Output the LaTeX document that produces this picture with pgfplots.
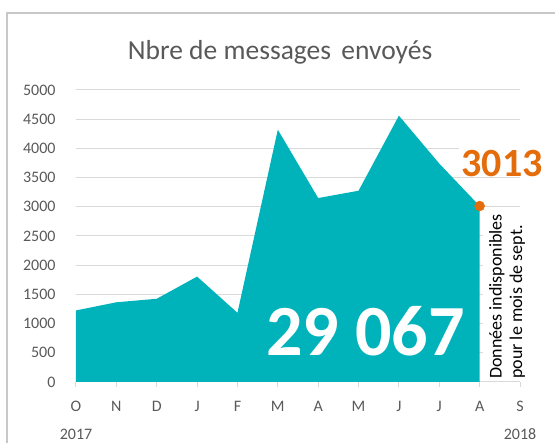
\documentclass[border=0pt]{standalone}
\usepackage{pgfplots}
\pgfplotsset{compat=1.18}
\usepackage{fontspec}
\setmainfont{Carlito}

\definecolor{areateal}{RGB}{0,179,187}
\definecolor{accent}{RGB}{228,108,10}
\definecolor{txtgray}{RGB}{89,89,89}
\definecolor{gridgray}{RGB}{217,217,217}
\definecolor{framegray}{RGB}{200,200,200}

\begin{document}
\begin{tikzpicture}
% page = 555 x 443, plot area origin sits at (76,382) of the reference
\path[use as bounding box, clip] (-76pt,-61pt) rectangle (479pt,382pt);
\draw[framegray, line width=1.5pt] (-69pt,-100pt) rectangle (530pt,369pt);
\begin{axis}[
    at={(0pt,0pt)}, anchor=south west,
    scale only axis, width=444pt, height=292pt,
    xmin=0, xmax=11, ymin=0, ymax=5000,
    clip=false,
    axis lines*=left,
    y axis line style={draw=none},
    x axis line style={gridgray, line width=1pt, -},
    xtick={0,...,11},
    xticklabels={O,N,D,J,F,M,A,M,J,J,A,S},
    ytick={0,500,...,5000},
    ymajorgrids,
    grid style={gridgray, line width=1pt},
    tick align=outside,
    major tick length=5pt,
    xtick style={gridgray, line width=1pt},
    ytick style={draw=none},
    tick label style={font=\fontsize{16}{19}\selectfont, text=txtgray},
    xticklabel style={yshift=-11pt},
    yticklabel style={xshift=-12pt},
    /pgf/number format/assume math mode=true,
    /pgf/number format/set thousands separator={},
  ]
  % messages sent per month, Oct 2017 - Aug 2018
  \addplot[fill=areateal, draw=none] coordinates {
    (0,1225) (1,1365) (2,1425) (3,1805) (4,1185) (5,4320)
    (6,3150) (7,3275) (8,4560) (9,3740) (10,3013)} \closedcycle;

  % white boxes behind the two annotations
  \fill[white] (axis cs:10.08,40) rectangle (axis cs:11.1,2900);
  \fill[white] (axis cs:9.5,3920) rectangle (axis cs:11.1,4080);

  \addplot[only marks, mark=*, mark size=5pt, accent] coordinates {(10,3013)};

  \node[anchor=base, text=accent, font=\fontsize{40}{40}\selectfont\bfseries]
    at (axis cs:10.555,3527) {3013};
  \node[anchor=base, text=white, font=\fontsize{72}{72}\selectfont\bfseries]
    at (axis cs:7.17,462) {29 067};
  \node[rotate=90, anchor=north west, inner sep=0pt, align=left,
        font=\fontsize{18}{20.5}\selectfont]
    at (axis cs:10.233,51) {Données indisponibles\\pour le mois de sept.};

  \node[anchor=base, text=txtgray, font=\fontsize{27.5}{30}\selectfont]
    at (axis cs:5.055,5514) {Nbre de messages\hspace{0.15em} envoyés};
  \node[anchor=base, text=txtgray, font=\fontsize{16}{19}\selectfont]
    at (axis cs:0,0) [yshift=-57.5pt] {2017};
  \node[anchor=base, text=txtgray, font=\fontsize{16}{19}\selectfont]
    at (axis cs:11,0) [yshift=-57.5pt] {2018};
\end{axis}
\end{tikzpicture}
\end{document}
